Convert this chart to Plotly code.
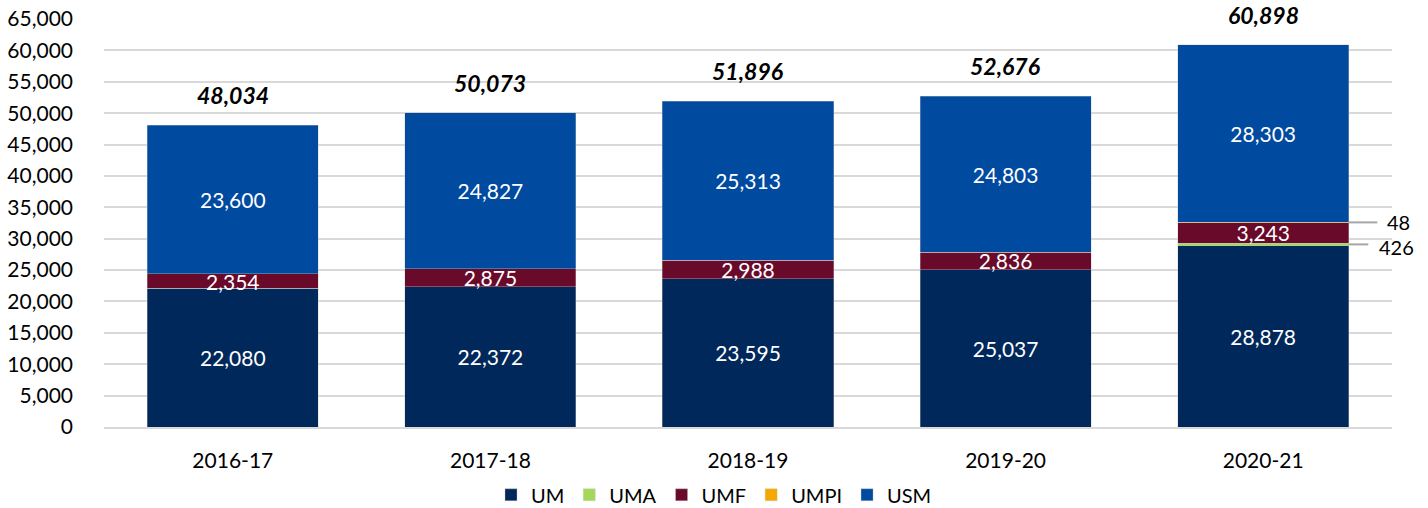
import plotly.graph_objects as go

years = ["2016-17", "2017-18", "2018-19", "2019-20", "2020-21"]
um = [22080, 22372, 23595, 25037, 28878]
uma = [0, 0, 0, 0, 426]
umf = [2354, 2875, 2988, 2836, 3243]
umpi = [0, 0, 0, 0, 48]
usm = [23600, 24827, 25313, 24803, 28303]
totals = [48034, 50073, 51896, 52676, 60898]

series = [
    ("UM", um, "#00285a", True),
    ("UMA", uma, "#a5d75a", False),
    ("UMF", umf, "#6a0a2a", True),
    ("UMPI", umpi, "#f5a800", False),
    ("USM", usm, "#004aa0", True),
]

FONT = "Lato"
fig = go.Figure()
for name, vals, color, lab in series:
    fig.add_trace(go.Bar(
        name=name, x=years, y=vals,
        marker=dict(color=color, line=dict(width=0.6, color="rgba(200,200,200,0.6)")),
        text=[f"{v:,}" if lab else "" for v in vals],
        textposition="inside", insidetextanchor="middle", textangle=0,
        constraintext="none",
        textfont=dict(color="white", size=21, family=FONT),
        hoverinfo="skip",
    ))

annotations = []
for yr, t in zip(years, totals):
    annotations.append(dict(x=yr, y=t, text=f"<b><i>{t:,}</i></b>", showarrow=False,
                            yanchor="bottom", yshift=14, font=dict(size=23, color="black", family=FONT)))

# leader labels for small segments in the last year
idx = 4
bar_half = 0.332
y_umpi = um[idx] + uma[idx] + umf[idx] + umpi[idx]
y_uma = um[idx] + uma[idx] / 2
shapes = [
    dict(type="line", xref="x", yref="y", x0=idx + bar_half, x1=4.443, y0=y_umpi, y1=y_umpi,
         line=dict(color="#a6a6a6", width=2)),
    dict(type="line", xref="x", yref="y", x0=idx + bar_half, x1=4.408, y0=y_uma, y1=y_uma,
         line=dict(color="#a6a6a6", width=2)),
]
annotations.append(dict(x=4.474, y=y_umpi, text=f"{umpi[idx]}", showarrow=False,
                        xanchor="left", yanchor="middle", yshift=0, font=dict(size=20, color="black", family=FONT)))
annotations.append(dict(x=4.443, y=y_uma, text=f"{uma[idx]}", showarrow=False,
                        xanchor="left", yanchor="middle", yshift=-3, font=dict(size=20, color="black", family=FONT)))

fig.update_layout(
    barmode="stack", bargap=0.336,
    width=1428, height=508,
    margin=dict(l=104, r=36, t=19, b=81),
    plot_bgcolor="white", paper_bgcolor="white",
    font=dict(family=FONT, size=20, color="black"),
    legend=dict(orientation="h", x=0.5, xanchor="center", xref="container",
                y=0.026, yanchor="middle", yref="container",
                font=dict(size=20), traceorder="normal"),
    annotations=annotations, shapes=shapes,
    showlegend=True,
)
fig.update_yaxes(range=[0, 65000], dtick=5000, tickformat=",", showgrid=True, gridcolor="#d9d9d9",
                 gridwidth=1.5, zeroline=False, showline=False, ticks="", ticklabelstandoff=30,
                 tickfont=dict(size=21), automargin=False)
fig.update_xaxes(showline=True, linecolor="#d9d9d9", linewidth=1.5, ticks="", tickfont=dict(size=21),
                 range=[-0.5, 4.5], automargin=False, ticklabelstandoff=14)
fig.write_html("out.html", config={"displayModeBar": False},
               post_script="document.body.style.margin='0';document.body.style.padding='0';")
